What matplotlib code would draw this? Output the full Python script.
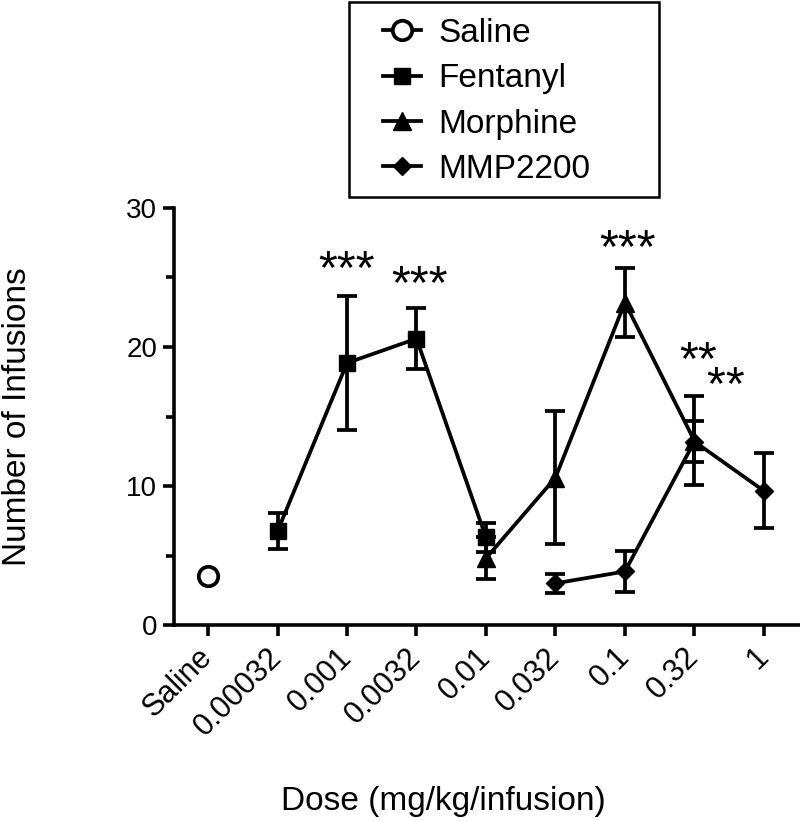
import matplotlib
matplotlib.use("Agg")
import matplotlib.pyplot as plt
from matplotlib.patches import Rectangle
from matplotlib.ticker import MultipleLocator

plt.rcParams['font.family'] = ['Liberation Sans', 'DejaVu Sans']

# Dose categories on x-axis
doses = ['Saline', '0.00032', '0.001', '0.0032', '0.01', '0.032', '0.1', '0.32', '1']

# Series (x = index into doses), mean and SEM
saline_x = [0]
saline_y = [3.5]

fent_x = [1, 2, 3, 4]
fent_y = [6.75, 18.85, 20.6, 6.3]
fent_err = [1.3, 4.85, 2.2, 1.05]

morph_x = [4, 5, 6, 7]
morph_y = [4.8, 10.6, 23.2, 13.25]
morph_err = [1.5, 4.8, 2.5, 3.2]

mmp_x = [5, 6, 7, 8]
mmp_y = [3.0, 3.85, 13.2, 9.65]
mmp_err = [0.7, 1.5, 1.45, 2.7]

# significance marks (the two stacked "**" at 0.32 share one text)
star_x = [2.0, 3.04, 6.04]
star_y = [26.2, 25.1, 27.7]
star_txt = ['***', '***', '***']
pair_x, pair_y, pair_txt = 7.06, 19.6, '**\n  **'

W, H = 800, 821
fig = plt.figure(figsize=(W / 100, H / 100), dpi=100)
ax = fig.add_axes([174 / W, 1 - 625 / H, (800 - 174) / W, (625 - 208) / H])

lw = 2.7
common = dict(color='black', linewidth=lw, elinewidth=lw, capsize=7.5, capthick=lw,
              markeredgecolor='black', markerfacecolor='black')

ax.plot(saline_x, saline_y, marker='o', linestyle='-', color='black', markersize=14,
        markerfacecolor='white', markeredgewidth=2.7, linewidth=lw, label='Saline', zorder=3)
ax.errorbar(fent_x, fent_y, yerr=fent_err, marker='s', markersize=11, label='Fentanyl', **common)
ax.errorbar(morph_x, morph_y, yerr=morph_err, marker='^', markersize=13, label='Morphine', **common)
ax.errorbar(mmp_x, mmp_y, yerr=mmp_err, marker='D', markersize=9, label='MMP2200', **common)

fs_star = 35
for x, y, s in zip(star_x, star_y, star_txt):
    ax.annotate(s, xy=(x, y), xytext=(0, -0.46 * fs_star), textcoords='offset points',
                ha='center', va='baseline', fontsize=fs_star)
ax.annotate(pair_txt, xy=(pair_x, pair_y), xytext=(-0.389 * fs_star, -0.46 * fs_star - 18),
            textcoords='offset points', ha='left', va='baseline', multialignment='left',
            linespacing=0.45, fontsize=fs_star)

ax.set_xlim(-0.49, 8.52)
ax.set_ylim(0, 30)
ax.set_xticks(range(len(doses)))
ax.set_xticklabels(doses, rotation=45, ha='right', va='center', rotation_mode='anchor', fontsize=22)
ax.yaxis.set_major_locator(MultipleLocator(10))
ax.yaxis.set_minor_locator(MultipleLocator(5))

for side in ['top', 'right']:
    ax.spines[side].set_visible(False)
for side in ['left', 'bottom']:
    ax.spines[side].set_linewidth(2.6)
ax.tick_params(axis='both', which='major', length=8, width=2.6, labelsize=20, pad=4)
ax.tick_params(axis='y', which='minor', length=5.5, width=2.6)
ax.tick_params(axis='x', which='major', pad=12, labelsize=22)

ax.set_ylabel('Number of Infusions', fontsize=24)
ax.yaxis.set_label_coords(-0.226, 0.5)
ax.set_xlabel('Dose (mg/kg/infusion)', fontsize=24)
ax.xaxis.set_label_coords(0.43, -0.385)

# legend shows line + marker only
handles, labels = ax.get_legend_handles_labels()
handles = [h.lines[0] if hasattr(h, 'lines') else h for h in handles]
leg = fig.legend(handles, labels, loc='upper left', frameon=False, fontsize=24,
                 bbox_to_anchor=(383 / W, 1 - 18 / H), borderpad=0, borderaxespad=0,
                 handlelength=1.15, handletextpad=0.5, labelspacing=0.43)
fig.add_artist(Rectangle((349 / W, 1 - 197 / H), 310 / W, 195 / H, transform=fig.transFigure,
                         fill=False, edgecolor='black', linewidth=1.8))

fig.savefig('out.png', dpi=100)
